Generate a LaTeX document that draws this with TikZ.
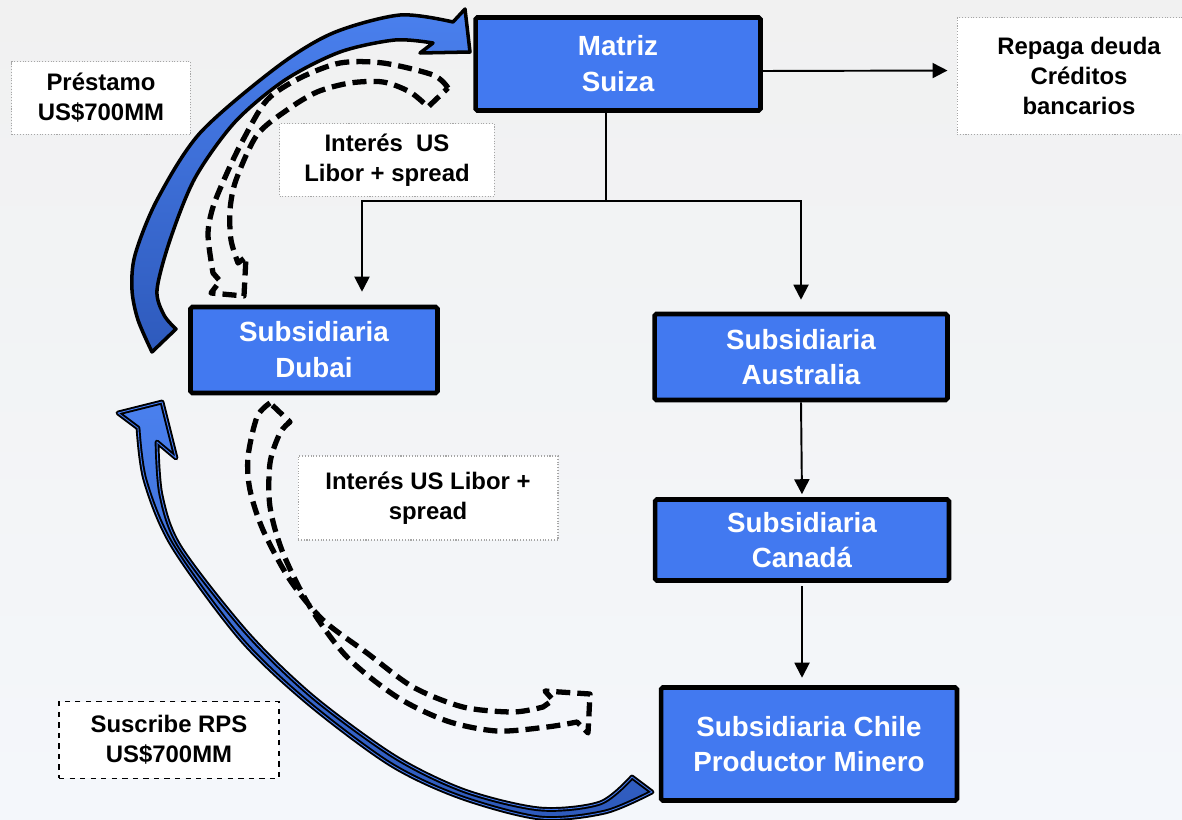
\documentclass[tikz,border=0pt]{standalone}
\usepackage{fontspec}
\setmainfont{Liberation Sans}
\usetikzlibrary{positioning, calc, arrows.meta}

\definecolor{boxblue}{RGB}{66,121,240}
\definecolor{arrowtop}{RGB}{74,128,238}
\definecolor{arrowbot}{RGB}{46,90,188}
\definecolor{bgtop}{RGB}{241,241,241}
\definecolor{bgbot}{RGB}{244,247,251}

\tikzset{
  entity/.style={draw=black, line width=2.6pt, fill=boxblue, text=white, rounded corners=1pt,
    align=center, font=\bfseries\fontsize{15.8}{20.4}\selectfont},
  note/.style={draw=gray!70, densely dotted, line width=0.6pt, fill=white, align=center,
    font=\bfseries\fontsize{13.6}{17}\selectfont},
  link/.style={line width=1.1pt, -{Triangle[width=0.3cm,length=0.3cm]}},
  flow/.style={draw=black, line width=2pt, top color=arrowtop, bottom color=arrowbot, line join=round},
  flowtwin/.style={flow, double=boxblue, double distance=0.5pt, line width=1.1pt},
  backflow/.style={draw=black, line width=3pt, dash pattern=on 8pt off 4pt, line join=round},
}

\begin{document}
\begin{tikzpicture}[x=0.02cm, y=-0.02cm]
    \useasboundingbox (0,0) rectangle (1182,820);
    \clip (0,0) rectangle (1182,820);
    \fill[top color=bgtop, bottom color=bgbot] (0,0) rectangle (1182,820);

    % companies
    \node[entity, minimum width=5.70cm, minimum height=1.86cm] (matriz) at (618,64) {Matriz\\Suiza};
    \node[entity, minimum width=4.94cm, minimum height=1.72cm] (dubai) at (314,350) {Subsidiaria\\Dubai};
    \node[entity, minimum width=5.86cm, minimum height=1.72cm] (australia) at (801,357) {Subsidiaria\\Australia};
    \node[entity, minimum width=5.88cm, minimum height=1.62cm] (canada) at (802,540) {Subsidiaria\\Canadá};
    \node[entity, minimum width=5.92cm, minimum height=2.26cm] (chile) at (809,744) {Subsidiaria Chile\\Productor Minero};

    % labels
    \node[note, minimum width=4.88cm, minimum height=2.34cm] (repaga) at (1079,76) {Repaga deuda\\Créditos\\bancarios};
    \node[note, minimum width=3.58cm, minimum height=1.46cm] (prestamo) at (101,98) {Préstamo\\US\$700MM};
    \node[note, minimum width=4.30cm, minimum height=1.46cm] (interesA) at (387,160) {Interés~~US\\Libor + spread};
    \node[note, minimum width=5.20cm, minimum height=1.68cm] (interesB) at (428,498) {Interés US Libor +\\spread};
    \node[note, draw=black, dashed, minimum width=4.40cm, minimum height=1.54cm] (suscribe) at (169,740) {Suscribe RPS\\US\$700MM};

    % ownership tree
    \coordinate (split) at (606,201);
    \draw[line width=1.1pt] (matriz.south -| split) -- (split);
    \draw[link, shorten >=0.26cm] (split) -| ([xshift=0.96cm]dubai.north);
    \draw[link, shorten >=0.24cm] (split) -| (australia.north);
    \draw[link, shorten >=0.06cm] (australia.south) -- (canada.north);
    \draw[link, shorten <=0.06cm, shorten >=0.15cm] (canada.south) -- (canada.south |- chile.north);
    \draw[link, shorten >=0.18cm] ([yshift=-0.14cm]matriz.east) -- ([yshift=0.11cm]repaga.west);

    % loan Dubai -> Matriz
    \filldraw[flow] plot[smooth] coordinates {(152,352) (138,320) (132,290) (135,255) (157,200) (200,133) (277,67) (333,33) (400,15) (453,22)}
        -- (465,9) -- (470,52) -- (420,53) -- (433,43)
        -- plot[smooth] coordinates {(433,43) (395,40) (340,52) (285,80) (235,122) (195,178) (170,240) (157,290) (164,315) (176,329)} -- cycle;

    % RPS Chile -> Dubai
    \filldraw[flowtwin] plot[smooth] coordinates {(652,792) (605,812) (540,818) (460,797) (390,764) (307,702) (240,638) (172,545) (145,480) (138,428)}
        -- (118,413) -- (162,402) -- (176,458) -- (157,442)
        -- plot[smooth] coordinates {(157,442) (161,495) (180,547) (247,633) (313,697) (395,757) (465,791) (540,809) (600,803) (632,777)} -- cycle;

    % interest Matriz -> Dubai
    \draw[backflow] plot[smooth] coordinates {(448,88) (433,75) (383,63) (340,63) (300,78) (267,100) (243,140) (227,173) (213,207) (208,235) (213,273)}
        -- (220,281) -- (211,293) -- (244,296) -- (246,257) -- (238,263)
        -- plot[smooth] coordinates {(238,263) (231,240) (230,210) (236,180) (257,135) (287,110) (317,92) (350,83) (383,82) (410,92) (428,107)} -- cycle;

    % interest Dubai -> Chile
    \draw[backflow] plot[smooth] coordinates {(270,403) (257,417) (248,457) (250,490) (263,530) (290,580) (323,620) (367,653) (413,687) (463,707) (513,712) (543,707)}
        -- (553,700) -- (545,691) -- (590,694) -- (588,733) -- (577,722)
        -- plot[smooth] coordinates {(577,722) (547,727) (497,731) (447,721) (397,697) (347,657) (310,607) (283,553) (270,507) (270,463) (280,433) (290,422)} -- cycle;

\end{tikzpicture}
\end{document}
